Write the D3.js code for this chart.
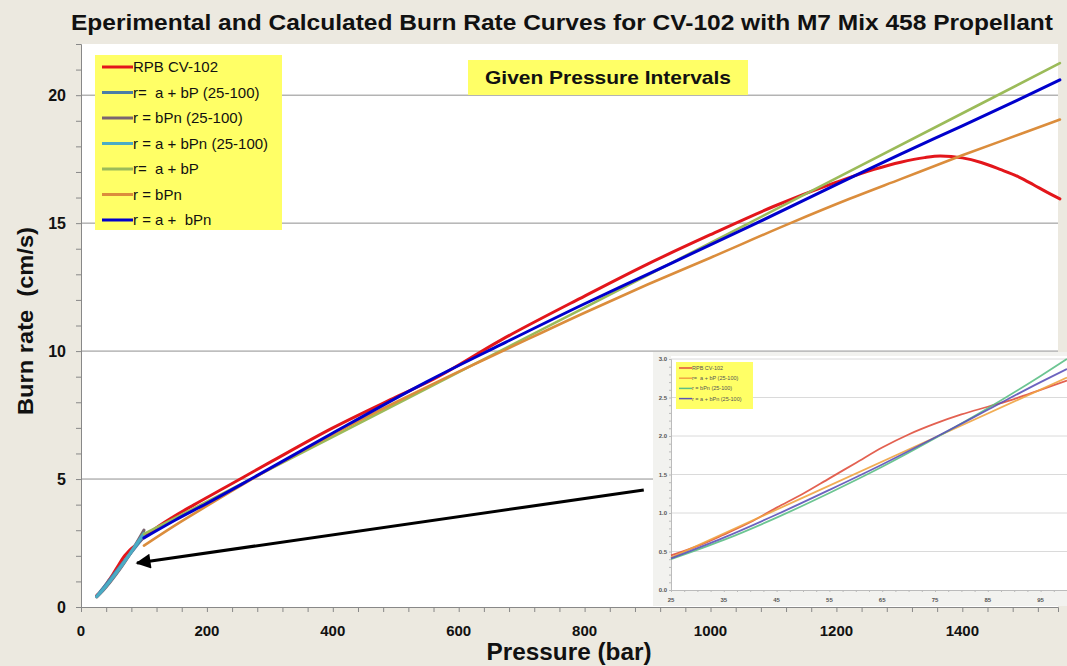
<!DOCTYPE html>
<html>
<head>
<meta charset="utf-8">
<script src="https://cdn.jsdelivr.net/npm/d3@7"></script>
<style>
html,body{margin:0;padding:0;background:#ECE9E0;}
svg{display:block;}
text{font-family:"Liberation Sans",Arial,sans-serif;white-space:pre;}
</style>
</head>
<body>
<svg id="chart" width="1067" height="666"></svg>
<script>
// ---------- DATA ----------
const titleText = "Eperimental and Calculated Burn Rate Curves for CV-102 with M7 Mix 458 Propellant";
const xLabel = "Pressure (bar)";
const yLabel = "Burn rate  (cm/s)";
const boxText = "Given Pressure Intervals";

const xTicks = [0, 200, 400, 600, 800, 1000, 1200, 1400];
const yTicks = [0, 5, 10, 15, 20];

const seriesNames = ["RPB CV-102", "r=  a + bP (25-100)", "r = bPn (25-100)", "r = a + bPn (25-100)", "r=  a + bP", "r = bPn", "r = a +  bPn"];
const seriesColors = ["#E3161B", "#4A7EA6", "#7A6470", "#4AACC5", "#9BBB59", "#DB8D3C", "#0000CC"];

// RPB CV-102 experimental
const rpbP = [25, 30, 35, 40, 45, 50, 55, 60, 65, 70, 75, 80, 85, 90, 95, 100, 120, 145, 180, 220, 260, 300, 400, 500, 560, 667, 800, 900, 1000, 1100, 1200, 1260, 1302, 1340, 1365, 1400, 1430, 1460, 1490, 1513, 1535, 1555];
const rpbR = [0.45, 0.57, 0.72, 0.88, 1.07, 1.25, 1.45, 1.65, 1.85, 2.02, 2.16, 2.28, 2.38, 2.48, 2.6, 2.72, 3.1, 3.5, 4.0, 4.55, 5.1, 5.65, 7.0, 8.2, 8.9, 10.43, 12.15, 13.4, 14.55, 15.65, 16.6, 17.1, 17.38, 17.56, 17.62, 17.55, 17.37, 17.1, 16.8, 16.5, 16.2, 15.95];

// fits over 25-100 bar
const fitLinLowP = [25, 50, 75, 100];
const fitLinLowR = [0.42, 1.2, 1.98, 2.76];
const fitPowLowP = [25, 35, 45, 55, 65, 75, 85, 95, 100];
const fitPowLowR = [0.40, 0.65, 0.94, 1.26, 1.60, 1.97, 2.36, 2.78, 3.0];
const fitAPowLowP = [25, 35, 45, 55, 65, 75, 85, 95, 100];
const fitAPowLowR = [0.41, 0.68, 0.98, 1.30, 1.63, 1.98, 2.34, 2.70, 2.87];

// fits over full range
const fitLinP = [100, 400, 800, 1200, 1555];
const fitLinR = [2.85, 6.65, 11.7, 16.76, 21.25];
const fitPowP = [100, 150, 200, 300, 400, 500, 600, 667, 800, 900, 1000, 1127, 1221, 1302, 1400, 1500, 1555];
const fitPowR = [2.4, 3.2, 3.95, 5.4, 6.75, 8.0, 9.2, 9.97, 11.5, 12.6, 13.65, 15.0, 15.95, 16.72, 17.65, 18.55, 19.05];
const fitAPowP = [100, 150, 200, 270, 400, 549, 667, 800, 900, 1073, 1208, 1302, 1400, 1487, 1555];
const fitAPowR = [2.7, 3.4, 4.05, 5.0, 6.8, 8.8, 10.25, 11.85, 13.0, 15.0, 16.6, 17.7, 18.8, 19.8, 20.6];

// inset
const insetXTicks = [25, 35, 45, 55, 65, 75, 85, 95];
const insetYTicks = [0.0, 0.5, 1.0, 1.5, 2.0, 2.5, 3.0];
const insetNames = ["RPB CV-102", "r=  a + bP (25-100)", "r = bPn (25-100)", "r = a + bPn (25-100)"];
const insetColors = ["#E0503E", "#F0A442", "#5CBF86", "#5C52B8"];
const insetRpbP = rpbP.slice(0, 16);
const insetRpbR = rpbR.slice(0, 16);

// arrow annotation (data coordinates)
const arrowFrom = [894, 4.57];
const arrowTo = [89, 1.72];

// ---------- DRAW ----------
const svg = d3.select("#chart");
const zip = (a, b) => a.map((v, i) => [v, b[i]]);

const x = d3.scaleLinear().domain([0, 1552]).range([81, 1058]);
const y = d3.scaleLinear().domain([0, 22]).range([607, 44]);

// plot background
svg.append("rect").attr("x", 81).attr("y", 44).attr("width", 977).attr("height", 563).attr("fill", "#FFFFFF");

// title
svg.append("text").attr("x", 562).attr("y", 30).attr("text-anchor", "middle")
  .attr("font-size", 22).attr("font-weight", "bold").attr("fill", "#111")
  .attr("textLength", 982).attr("lengthAdjust", "spacingAndGlyphs").text(titleText);

// gridlines
svg.append("g").selectAll("line").data(yTicks.filter(d => d > 0)).join("line")
  .attr("x1", 81).attr("x2", 1058).attr("y1", d => y(d)).attr("y2", d => y(d))
  .attr("stroke", "#8F8F8F").attr("stroke-width", 1);

// axes
const xAxis = d3.axisBottom(x).tickValues(d3.range(0, 1552, 40)).tickSize(5).tickFormat("");
const gx = svg.append("g").attr("transform", "translate(0,607)").call(xAxis);
gx.select(".domain").attr("stroke", "#888");
gx.selectAll(".tick line").attr("stroke", "#888");
svg.append("g").selectAll("text").data(xTicks).join("text")
  .attr("x", d => x(d)).attr("y", 636).attr("text-anchor", "middle")
  .attr("font-size", 15).attr("font-weight", "bold").attr("fill", "#111")
  .text(d => d);

const yAxis = d3.axisLeft(y).tickValues(d3.range(0, 23, 1)).tickSize(5).tickFormat("");
const gy = svg.append("g").attr("transform", "translate(81,0)").call(yAxis);
gy.select(".domain").attr("stroke", "#888");
gy.selectAll(".tick line").attr("stroke", "#888");
svg.append("g").selectAll("text").data(yTicks).join("text")
  .attr("x", 66).attr("y", d => y(d) + 6).attr("text-anchor", "end")
  .attr("font-size", 16).attr("font-weight", "bold").attr("fill", "#111")
  .text(d => d);

// axis titles
svg.append("text").attr("x", 569).attr("y", 660).attr("text-anchor", "middle")
  .attr("font-size", 23).attr("font-weight", "bold").attr("fill", "#111")
  .attr("textLength", 165).attr("lengthAdjust", "spacingAndGlyphs").text(xLabel);
svg.append("text").attr("transform", "translate(33,321) rotate(-90)").attr("text-anchor", "middle")
  .attr("font-size", 22).attr("font-weight", "bold").attr("fill", "#111")
  .attr("textLength", 188).attr("lengthAdjust", "spacingAndGlyphs").text(yLabel);

// series
const mainSeries = [
  zip(rpbP, rpbR), zip(fitLinLowP, fitLinLowR), zip(fitPowLowP, fitPowLowR), zip(fitAPowLowP, fitAPowLowR),
  zip(fitLinP, fitLinR), zip(fitPowP, fitPowR), zip(fitAPowP, fitAPowR)
];
const widths = [3, 3.2, 3.2, 3.2, 2.6, 2.6, 3];
const line = d3.line().x(d => x(d[0])).y(d => y(d[1])).curve(d3.curveMonotoneX);
svg.append("g").selectAll("path").data(mainSeries).join("path")
  .attr("d", line).attr("fill", "none")
  .attr("stroke", (d, i) => seriesColors[i]).attr("stroke-width", (d, i) => widths[i])
  .attr("stroke-linejoin", "round").attr("stroke-linecap", "round");

// legend
const lg = svg.append("g");
lg.append("rect").attr("x", 95).attr("y", 55).attr("width", 187).attr("height", 175).attr("fill", "#FFFF66");
const rowY = i => 67 + i * 25.5;
lg.selectAll("line").data(seriesNames).join("line")
  .attr("x1", 102).attr("x2", 133).attr("y1", (d, i) => rowY(i)).attr("y2", (d, i) => rowY(i))
  .attr("stroke", (d, i) => seriesColors[i]).attr("stroke-width", 3);
lg.selectAll("text").data(seriesNames).join("text")
  .attr("x", 133).attr("y", (d, i) => rowY(i) + 5)
  .attr("font-size", 15).attr("fill", "#111").text(d => d);

// "Given Pressure Intervals" box
svg.append("rect").attr("x", 468).attr("y", 60).attr("width", 280).attr("height", 35).attr("fill", "#FFFF66");
svg.append("text").attr("x", 608).attr("y", 84).attr("text-anchor", "middle")
  .attr("font-size", 19).attr("font-weight", "bold").attr("fill", "#111")
  .attr("textLength", 246).attr("lengthAdjust", "spacingAndGlyphs").text(boxText);

// arrow
const defs = svg.append("defs");
defs.append("marker").attr("id", "ah").attr("viewBox", "0 0 10 10").attr("refX", 9).attr("refY", 5)
  .attr("markerWidth", 7).attr("markerHeight", 5).attr("markerUnits", "strokeWidth").attr("orient", "auto")
  .append("path").attr("d", "M0,0 L10,5 L0,10 Z").attr("fill", "#000");
svg.append("line").attr("x1", x(arrowFrom[0])).attr("y1", y(arrowFrom[1]))
  .attr("x2", x(arrowTo[0])).attr("y2", y(arrowTo[1]))
  .attr("stroke", "#000").attr("stroke-width", 3).attr("marker-end", "url(#ah)");

// ---------- INSET ----------
const ig = svg.append("g");
ig.append("rect").attr("x", 653).attr("y", 352).attr("width", 414).attr("height", 254).attr("fill", "#F2F2EF");
ig.append("rect").attr("x", 671).attr("y", 356).attr("width", 396).attr("height", 234).attr("fill", "#FFFFFF");
const xi = d3.scaleLinear().domain([25, 100]).range([671, 1067]);
const yi = d3.scaleLinear().domain([0, 3]).range([590, 359]);

ig.append("g").selectAll("line").data(insetYTicks.filter(d => d > 0)).join("line")
  .attr("x1", 671).attr("x2", 1067).attr("y1", d => yi(d)).attr("y2", d => yi(d))
  .attr("stroke", "#DADADA").attr("stroke-width", 1);

const gxi = ig.append("g").attr("transform", "translate(0,590)")
  .call(d3.axisBottom(xi).tickValues(d3.range(25, 101, 2.5)).tickSize(2).tickFormat(""));
gxi.select(".domain").attr("stroke", "#BBB");
gxi.selectAll(".tick line").attr("stroke", "#BBB");
const gyi = ig.append("g").attr("transform", "translate(671,0)")
  .call(d3.axisLeft(yi).tickValues(d3.range(0, 3.01, 0.1)).tickSize(2).tickFormat(""));
gyi.select(".domain").attr("stroke", "#BBB");
gyi.selectAll(".tick line").attr("stroke", "#BBB");

ig.append("g").selectAll("text").data(insetXTicks).join("text")
  .attr("x", d => xi(d)).attr("y", 602).attr("text-anchor", "middle")
  .attr("font-size", 6).attr("font-weight", "bold").attr("fill", "#555").text(d => d);
ig.append("g").selectAll("text").data(insetYTicks).join("text")
  .attr("x", 667).attr("y", d => yi(d) + 2).attr("text-anchor", "end")
  .attr("font-size", 6).attr("font-weight", "bold").attr("fill", "#555").text(d => d.toFixed(1));

const insetSeries = [zip(insetRpbP, insetRpbR), zip(fitLinLowP, fitLinLowR), zip(fitPowLowP, fitPowLowR), zip(fitAPowLowP, fitAPowLowR)];
const iline = d3.line().x(d => xi(d[0])).y(d => yi(d[1])).curve(d3.curveMonotoneX);
ig.append("g").selectAll("path").data(insetSeries).join("path")
  .attr("d", iline).attr("fill", "none")
  .attr("stroke", (d, i) => insetColors[i]).attr("stroke-width", 1.8).attr("opacity", 0.9);

const il = ig.append("g");
il.append("rect").attr("x", 676).attr("y", 362).attr("width", 77).attr("height", 47).attr("fill", "#FFFF66");
il.selectAll("line").data(insetNames).join("line")
  .attr("x1", 679).attr("x2", 692).attr("y1", (d, i) => 368 + i * 10.2).attr("y2", (d, i) => 368 + i * 10.2)
  .attr("stroke", (d, i) => insetColors[i]).attr("stroke-width", 1.5);
il.selectAll("text").data(insetNames).join("text")
  .attr("x", 692).attr("y", (d, i) => 370 + i * 10.2)
  .attr("font-size", 5.5).attr("fill", "#555").text(d => d);
</script>
</body>
</html>
